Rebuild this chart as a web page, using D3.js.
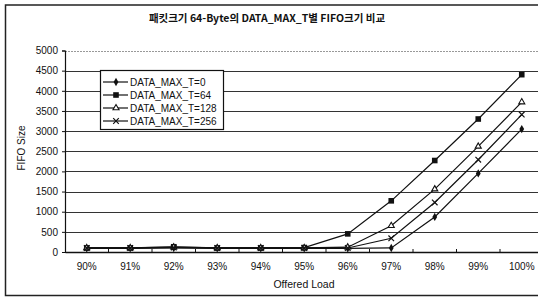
<!DOCTYPE html>
<html>
<head>
<meta charset="utf-8">
<script src="https://cdn.jsdelivr.net/npm/d3@7"></script>
<style>
  html, body { margin: 0; padding: 0; background: #fff; }
  svg { display: block; font-family: "Liberation Sans", Arial, sans-serif; }
</style>
</head>
<body>
<div id="root"></div>
<script>
const svgWidth = 538;
const svgHeight = 299;

// data
const categories = ["90%", "91%", "92%", "93%", "94%", "95%", "96%", "97%", "98%", "99%", "100%"];
const seriesNames = ["DATA_MAX_T=0", "DATA_MAX_T=64", "DATA_MAX_T=128", "DATA_MAX_T=256"];
const valuesT0 = [90, 90, 100, 90, 90, 90, 90, 100, 870, 1950, 3050];
const valuesT64 = [100, 100, 130, 100, 100, 110, 450, 1270, 2270, 3300, 4400];
const valuesT128 = [100, 100, 120, 100, 100, 100, 120, 650, 1560, 2620, 3720];
const valuesT256 = [100, 100, 110, 100, 100, 100, 100, 340, 1230, 2290, 3410];
const yTicks = [0, 500, 1000, 1500, 2000, 2500, 3000, 3500, 4000, 4500, 5000];

const allSeries = [valuesT0, valuesT64, valuesT128, valuesT256];
const markerTypes = ["diamond", "square", "triangle", "cross"];

const plotLeft = 65;
const plotTop = 50.5;
const plotBottom = 252;
const step = 43.5;

const xScale = d3.scaleBand()
  .domain(categories)
  .range([plotLeft, plotLeft + step * categories.length]);

const yScale = d3.scaleLinear()
  .domain([0, 5000])
  .range([plotBottom, plotTop]);

const svg = d3.select("#root")
  .append("svg")
  .attr("width", svgWidth)
  .attr("height", svgHeight);

// outer frame
svg.append("rect")
  .attr("x", 5.5).attr("y", 5)
  .attr("width", 560).attr("height", 290.5)
  .attr("fill", "none")
  .attr("stroke", "#222")
  .attr("stroke-width", 1.5);

// title
svg.append("text")
  .attr("x", 267).attr("y", 22)
  .attr("text-anchor", "middle")
  .attr("font-family", "'Noto Sans CJK KR', 'Liberation Sans', sans-serif")
  .attr("font-size", "10.5px")
  .attr("font-weight", "bold")
  .attr("fill", "#111")
  .text("패킷크기 64-Byte의 DATA_MAX_T별 FIFO크기 비교");

// gridlines
svg.selectAll(".grid")
  .data(yTicks.filter(d => d > 0))
  .join("line")
  .attr("class", "grid")
  .attr("x1", plotLeft).attr("x2", svgWidth)
  .attr("y1", d => Math.round(yScale(d)) + 0.5)
  .attr("y2", d => Math.round(yScale(d)) + 0.5)
  .attr("stroke", d => d === 5000 ? "#999" : "#333")
  .attr("stroke-dasharray", d => d === 5000 ? "2,1" : null)
  .attr("stroke-width", 1);

// y axis
const yAxis = d3.axisLeft(yScale)
  .tickValues(yTicks)
  .tickSize(3)
  .tickPadding(4)
  .tickFormat(d3.format("d"));

const yAxisG = svg.append("g")
  .attr("transform", `translate(${plotLeft},0)`)
  .call(yAxis);
yAxisG.select(".domain").attr("stroke", "#111").attr("stroke-width", 1.2);
yAxisG.selectAll(".tick line").attr("stroke", "#111");
yAxisG.selectAll("text")
  .attr("font-size", "10px")
  .attr("font-family", "'Liberation Sans', Arial, sans-serif")
  .attr("fill", "#111");

// x axis
const xAxis = d3.axisBottom(xScale)
  .tickSize(0)
  .tickPadding(11);

const xAxisG = svg.append("g")
  .attr("transform", `translate(0,${plotBottom})`)
  .call(xAxis);
xAxisG.select(".domain").attr("stroke", "#111").attr("stroke-width", 1.5);
xAxisG.selectAll("text")
  .attr("font-size", "10px")
  .attr("font-family", "'Liberation Sans', Arial, sans-serif")
  .attr("fill", "#111");

// x tick marks between categories
svg.selectAll(".xtick")
  .data(categories)
  .join("line")
  .attr("class", "xtick")
  .attr("x1", d => xScale(d) + xScale.bandwidth())
  .attr("x2", d => xScale(d) + xScale.bandwidth())
  .attr("y1", plotBottom - 3)
  .attr("y2", plotBottom)
  .attr("stroke", "#111");

// axis titles
svg.append("text")
  .attr("transform", `translate(25,148) rotate(-90)`)
  .attr("text-anchor", "middle")
  .attr("font-size", "10px")
  .attr("fill", "#111")
  .text("FIFO Size");

svg.append("text")
  .attr("x", 304).attr("y", 288)
  .attr("text-anchor", "middle")
  .attr("font-size", "10.5px")
  .attr("fill", "#111")
  .text("Offered Load");

// marker drawing
const drawMarker = (g, type, x, y) => {
  if (type === "diamond") {
    g.append("path")
      .attr("d", d3.symbol(d3.symbolDiamond, 20)())
      .attr("transform", `translate(${x},${y})`)
      .attr("fill", "#111");
  } else if (type === "square") {
    g.append("rect")
      .attr("x", x - 2.8).attr("y", y - 2.8)
      .attr("width", 5.6).attr("height", 5.6)
      .attr("fill", "#111");
  } else if (type === "triangle") {
    g.append("path")
      .attr("d", d3.symbol(d3.symbolTriangle, 16)())
      .attr("transform", `translate(${x},${y})`)
      .attr("fill", "#fff")
      .attr("stroke", "#111")
      .attr("stroke-width", 1.1);
  } else {
    g.append("path")
      .attr("d", `M${x - 2.8},${y - 2.8}L${x + 2.8},${y + 2.8}M${x - 2.8},${y + 2.8}L${x + 2.8},${y - 2.8}`)
      .attr("stroke", "#111")
      .attr("stroke-width", 1.2);
  }
};

const line = d3.line()
  .x((d, i) => xScale(categories[i]) + xScale.bandwidth() / 2)
  .y(d => yScale(d));

allSeries.forEach((values, si) => {
  const g = svg.append("g");
  g.append("path")
    .datum(values)
    .attr("d", line)
    .attr("fill", "none")
    .attr("stroke", "#111")
    .attr("stroke-width", 1.2);
  values.forEach((v, i) => {
    drawMarker(g, markerTypes[si], xScale(categories[i]) + xScale.bandwidth() / 2, yScale(v));
  });
});

// legend
const legend = svg.append("g");
legend.append("rect")
  .attr("x", 100.5).attr("y", 70.5)
  .attr("width", 123).attr("height", 59)
  .attr("fill", "#fff")
  .attr("stroke", "#111")
  .attr("stroke-width", 1.2);

seriesNames.forEach((name, i) => {
  const ly = 82 + i * 13;
  legend.append("line")
    .attr("x1", 103).attr("x2", 128)
    .attr("y1", ly).attr("y2", ly)
    .attr("stroke", "#111")
    .attr("stroke-width", 1.2);
  drawMarker(legend, markerTypes[i], 116, ly);
  legend.append("text")
    .attr("x", 130).attr("y", ly + 3.5)
    .attr("font-size", "10px")
    .attr("fill", "#111")
    .text(name);
});
</script>
</body>
</html>
